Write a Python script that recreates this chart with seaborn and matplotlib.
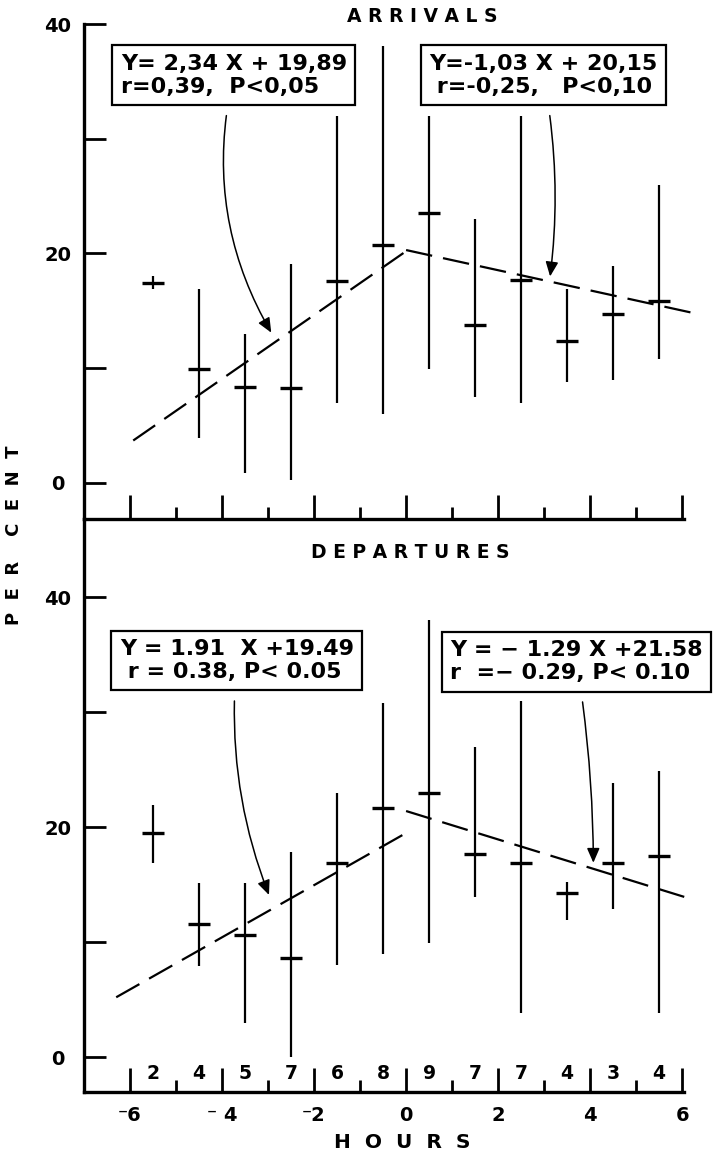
import matplotlib
matplotlib.use("Agg")
import matplotlib.pyplot as plt
import seaborn as sns
import pandas as pd

# ---------------- data ----------------
hours = [-5.5, -4.5, -3.5, -2.5, -1.5, -0.5, 0.5, 1.5, 2.5, 3.5, 4.5, 5.5]
arr_mean = [17.4, 9.9, 8.4, 8.3, 17.6, 20.7, 23.5, 13.8, 17.7, 12.4, 14.7, 15.9]
arr_low = [16.9, 3.9, 0.9, 0.3, 7.0, 6.0, 9.9, 7.5, 7.0, 8.8, 9.0, 10.8]
arr_high = [18.0, 16.9, 13.0, 19.1, 32.0, 38.1, 32.0, 23.0, 32.0, 16.9, 18.9, 26.0]
dep_mean = [19.5, 11.6, 10.6, 8.6, 16.9, 21.7, 23.0, 17.7, 16.9, 14.3, 16.9, 17.5]
dep_low = [16.9, 7.9, 3.0, 0.0, 8.0, 9.0, 9.9, 13.9, 3.8, 11.9, 12.9, 3.8]
dep_high = [21.9, 15.1, 15.1, 17.8, 23.0, 30.8, 38.0, 27.0, 31.0, 15.2, 23.8, 24.9]
sample_n = [2, 4, 5, 7, 6, 8, 9, 7, 7, 4, 3, 4]

# regression line end points as drawn
arr_fit_left_x = [-5.93, 0.0]
arr_fit_left_y = [3.7, 20.2]
arr_fit_right_x = [0.0, 6.2]
arr_fit_right_y = [20.3, 14.85]
dep_fit_left_x = [-6.3, 0.05]
dep_fit_left_y = [5.2, 19.6]
dep_fit_right_x = [0.0, 6.07]
dep_fit_right_y = [21.4, 13.9]

arr_eq_left = "Y= 2,34 X + 19,89\nr=0,39,  P<0,05"
arr_eq_right = "Y=-1,03 X + 20,15\n r=-0,25,   P<0,10"
dep_eq_left = "Y = 1.91  X +19.49\n r = 0.38, P< 0.05"
dep_eq_right = "Y = \u2212 1.29 X +21.58\nr  =\u2212 0.29, P< 0.10"

x_tick_vals = [-6, -4, -2, 0, 2, 4, 6]
x_tick_labels = ["\u207b6", "\u207b 4", "\u207b2", "0", "2", "4", "6"]
x_minor_vals = [-5, -3, -1, 1, 3, 5]
y_tick_vals = [0, 10, 20, 30, 40]
y_tick_labels = ["0", "", "20", "", "40"]

# ---------------- style ----------------
sns.set_theme(style="ticks")
plt.rcParams["font.family"] = ["DejaVu Sans"]
plt.rcParams["font.weight"] = "bold"
for k in ("text.color", "axes.labelcolor", "xtick.color", "ytick.color",
          "axes.edgecolor"):
    plt.rcParams[k] = "black"

W, H = 724, 1161
fig = plt.figure(figsize=(W / 100, H / 100), dpi=100)
fig.patch.set_facecolor("white")

left_px, right_px = 84, 684
ax2 = fig.add_axes([left_px / W, 1 - 1092 / H, (right_px - left_px) / W, (1092 - 519) / H])
ax1 = fig.add_axes([left_px / W, 1 - 519 / H, (right_px - left_px) / W, (519 - 24) / H])

dash = (0, (12, 5))


def draw_panel(ax, mean, low, high, fl_x, fl_y, fr_x, fr_y):
    df = pd.DataFrame({"h": hours, "m": mean, "lo": low, "hi": high})
    ax.vlines(df["h"], df["lo"], df["hi"], color="black", lw=1.6, zorder=3)
    sns.scatterplot(data=df, x="h", y="m", marker="_", s=270, color="black",
                    linewidth=2.4, ax=ax, zorder=4, legend=False)
    for xs, ys in ((fl_x, fl_y), (fr_x, fr_y)):
        seg = pd.DataFrame({"x": xs, "y": ys})
        sns.lineplot(data=seg, x="x", y="y", color="black", lw=1.6,
                     linestyle=dash, ax=ax, zorder=2, clip_on=False)
    ax.set_xlim(-7, 6.04)
    ax.set_xlabel("")
    ax.set_ylabel("")
    ax.patch.set_alpha(0.0)
    for s in ("top", "right"):
        ax.spines[s].set_visible(False)
    for s in ("left", "bottom"):
        ax.spines[s].set_linewidth(2.4)
        ax.spines[s].set_color("black")
        ax.spines[s].set_zorder(5)
    ax.set_xticks(x_tick_vals)
    ax.set_xticks(x_minor_vals, minor=True)
    ax.set_yticks(y_tick_vals)
    ax.set_yticklabels(y_tick_labels)
    ax.tick_params(axis="x", which="major", direction="in", length=17, width=2.0,
                   color="black", labelsize=14, pad=10, bottom=True)
    ax.tick_params(axis="x", which="minor", direction="in", length=8.5, width=2.0,
                   color="black", bottom=True)
    ax.tick_params(axis="y", which="major", direction="in", length=16, width=2.0,
                   color="black", labelsize=14, pad=19, left=True)
    for lab in ax.get_yticklabels():
        lab.set_ha("center")
        lab.set_fontweight("bold")


draw_panel(ax1, arr_mean, arr_low, arr_high,
           arr_fit_left_x, arr_fit_left_y, arr_fit_right_x, arr_fit_right_y)
draw_panel(ax2, dep_mean, dep_low, dep_high,
           dep_fit_left_x, dep_fit_left_y, dep_fit_right_x, dep_fit_right_y)

ax1.set_ylim(-3.14, 40)
ax1.tick_params(axis="x", labelbottom=False)
ax2.set_ylim(-3.04, 46.8)
ax2.set_xticklabels(x_tick_labels)
for lab in ax2.get_xticklabels():
    lab.set_fontweight("bold")

# sample sizes
for h, n in zip(hours, sample_n):
    ax2.text(h, -1.4, str(n), ha="center", va="center", fontsize=13.5,
             fontweight="bold")

# equation boxes with arrows
box = dict(boxstyle="square,pad=0.38", fc="white", ec="black", lw=1.6)


def eq(ax, text, tip, txt, rad):
    ax.annotate(text, xy=tip, xytext=txt, textcoords="data", ha="left", va="top",
                fontsize=16, fontweight="bold", bbox=box, linespacing=1.18,
                annotation_clip=False, zorder=6,
                arrowprops=dict(arrowstyle="-|>,head_length=0.55,head_width=0.24",
                                connectionstyle=f"arc3,rad={rad}", color="black",
                                lw=1.1, shrinkA=7, shrinkB=0))


eq(ax1, arr_eq_left, (-2.93, 13.1), (-6.2, 37.4), 0.2)
eq(ax1, arr_eq_right, (3.13, 18.0), (0.5, 37.4), -0.08)
eq(ax2, dep_eq_left, (-2.98, 14.1), (-6.22, 36.35), 0.12)
eq(ax2, dep_eq_right, (4.07, 16.9), (0.96, 36.26), -0.04)

# titles and axis labels
fig.text(422 / W, 1 - 16 / H, "A R R I V A L S", ha="center", va="center",
         fontsize=13.5, fontweight="bold")
fig.text(410 / W, 1 - 553 / H, "D E P A R T U R E S", ha="center", va="center",
         fontsize=13.5, fontweight="bold")
fig.text(402 / W, 1 - 1143 / H, "H  O  U  R  S", ha="center", va="center",
         fontsize=14.5, fontweight="bold")
fig.text(14 / W, 1 - 535 / H, "P  E  R    C  E  N  T", ha="center", va="center",
         rotation=90, fontsize=13, fontweight="bold")

fig.savefig("out.png", dpi=100, facecolor="white")
